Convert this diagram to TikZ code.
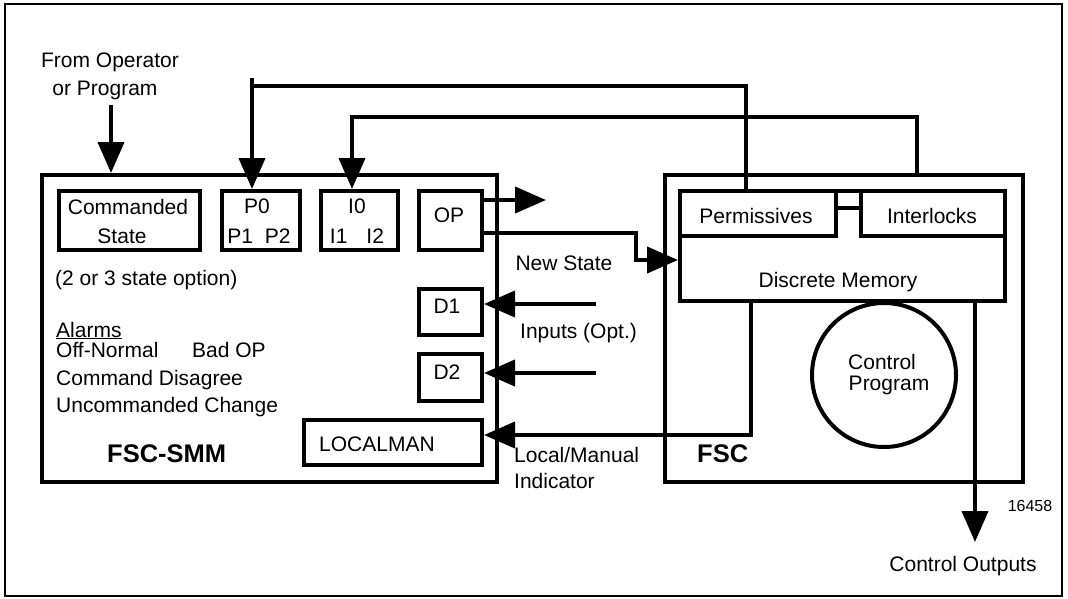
\documentclass[tikz,border=0pt]{standalone}
\usepackage{fontspec}
\setmainfont{Liberation Sans}
\usetikzlibrary{arrows.meta}
\newcommand\mytxt{\fontsize{21}{27}\selectfont}
\newcommand\mybold{\fontsize{25.5}{30}\selectfont\bfseries}
\begin{document}
\begin{tikzpicture}[x=1pt,y=-1pt,
  box/.style={draw,line width=4pt,inner sep=0pt,anchor=north west},
  wire/.style={line width=4pt},
  arr/.style={line width=4pt,-{Triangle[length=31pt,width=26pt]}},
  lbl/.style={inner sep=0pt,font=\mytxt,anchor=base},
  lblw/.style={inner sep=0pt,font=\mytxt,anchor=base west},
  bold/.style={inner sep=0pt,font=\mybold,anchor=base west},
]
\path[use as bounding box] (0,0) rectangle (1068,598);
\draw[line width=2pt] (5,4) rectangle (1062,596);

% FSC-SMM block
\node[box,minimum width=455pt,minimum height=307pt] (smm) at (40,173) {};
\node[box,minimum width=141pt,minimum height=59pt] (cmd) at (57,189) {};
\node[box,minimum width=78pt,minimum height=59pt] (p0) at (220,189) {};
\node[box,minimum width=77pt,minimum height=59pt] (i0) at (319,189) {};
\node[box,minimum width=63pt,minimum height=59pt] (op) at (417,189) {};
\node[box,minimum width=63pt,minimum height=46pt] (d1) at (417,287) {};
\node[box,minimum width=63pt,minimum height=47pt] (d2) at (417,352) {};
\node[box,minimum width=178pt,minimum height=45pt] (lman) at (302,418) {};

% FSC block
\node[box,minimum width=358pt,minimum height=307pt] (fsc) at (663,173) {};
\node[box,minimum width=325pt,minimum height=110pt] (dm) at (678,189) {};
\node[box,minimum width=156pt,minimum height=45pt] (perm) at (678,189) {};
\node[box,minimum width=144pt,minimum height=45pt] (intl) at (859,189) {};
\draw[wire] ([yshift=5.5pt]perm.east) -- ([yshift=5.5pt]intl.west);
\node[draw,circle,line width=4pt,minimum size=144pt,inner sep=0pt] (prog) at (884,375) {};

% texts
\node[lbl] (t1) at (110,67) {From Operator};
\node[lbl] (t2) at (105,95) {or Program};
\node[lbl] (t3) at (128,214) {Commanded};
\node[lbl] (t4) at (122,243) {State};
\node[lbl] (t5) at (257,213) {P0};
\node[lbl] (t6) at (259,243) {P1\hspace{12pt}P2};
\node[lbl] (t7) at (357,213) {I0};
\node[lbl] (t8) at (357,243) {I1\hspace{19pt}I2};
\node[lbl] (t9) at (449,222) {OP};
\node[lbl] (t10) at (447,313) {D1};
\node[lbl] (t11) at (447,379) {D2};
\node[lblw] (t12) at (319,451) {LOCALMAN};
\node[lblw] (t13) at (55,285) {(2 or 3 state option)};
\node[lblw] (t14) at (56,337) {\underline{Alarms}};
\node[lblw] (t15) at (56,357) {Off-Normal};
\node[lblw] (t16) at (192,357) {Bad OP};
\node[lblw] (t17) at (56,385) {Command Disagree};
\node[lblw] (t18) at (56,412) {Uncommanded Change};
\node[bold] (t19) at (107,462) {FSC-SMM};
\node[lbl] (t20) at (564,270) {New State};
\node[lblw] (t21) at (520,338) {Inputs (Opt.)};
\node[lblw] (t22) at (514,462) {Local/Manual};
\node[lblw] (t23) at (514,488) {Indicator};
\node[lbl] (t24) at (756,223) {Permissives};
\node[lbl] (t25) at (932,223) {Interlocks};
\node[lbl] (t26) at (838,287) {Discrete Memory};
\node[bold] (t27) at (697,462) {FSC};
\node[lbl] (t28) at (882,369) {Control};
\node[lbl] (t29) at (889,390) {Program};
\node[inner sep=0pt,anchor=base,font=\fontsize{16}{19}\selectfont] (t30) at (1030,511) {16458};
\node[lbl] (t31) at (963,571) {Control Outputs};

% connectors
\coordinate (src) at (111,105);
\draw[arr] (src) -- (src |- smm.north);

\coordinate (pc) at (252,86);
\coordinate (pc2) at (746,86);
\draw[wire] (pc2 |- perm.north) -- (pc2) -- (pc);
\draw[arr] ([yshift=8pt]pc) -- (pc |- p0.north);

\coordinate (ic) at (352,117);
\coordinate (ic2) at (917,117);
\draw[arr] (ic2 |- fsc.north) -- (ic2) -- (ic) -- (ic |- i0.north);

\coordinate (opo) at (546,200);
\draw[arr] (op.east |- opo) -- (opo);

\coordinate (ns) at (636,233);
\coordinate (ns2) at (636,260);
\draw[arr] (op.east |- ns) -- (ns) -- (ns2) -- (ns2 -| dm.west);

\coordinate (d1in) at (596,304);
\draw[arr] (d1in) -- (d1in -| d1.east);
\coordinate (d2in) at (596,373);
\draw[arr] (d2in) -- (d2in -| d2.east);

\coordinate (lm) at (751,435);
\draw[arr] (lm |- dm.south) -- (lm) -- (lm -| lman.east);

\coordinate (co) at (975,542);
\draw[arr] (co |- dm.south) -- (co);
\end{tikzpicture}
\end{document}
